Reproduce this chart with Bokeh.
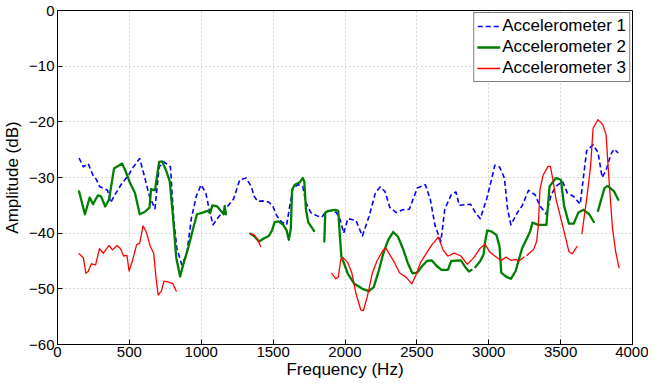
from bokeh.plotting import figure
from bokeh.models import Range1d, FixedTicker, CustomJSTickFormatter
from bokeh.embed import file_html
from bokeh.resources import INLINE

# ---------------- data ----------------
x_ticks = [0, 500, 1000, 1500, 2000, 2500, 3000, 3500, 4000]
y_ticks = [-60, -50, -40, -30, -20, -10, 0]

acc1_freq = [150, 180, 213, 247, 269, 292, 348, 370, 404, 449, 494, 527, 572, 606, 640, 678, 707, 741, 786, 808,
             830, 864, 898, 931, 965, 999, 1032, 1055, 1082, 1111, 1156, 1224, 1268, 1313, 1347, 1369, 1392, 1425,
             1470, 1497, 1526, 1560, 1594, 1616, 1638, 1672, 1706, 1728, 1762, 1807, 1840, 1870, 1908, 1941, 1968,
             1991, 2020, 2076, 2121, 2166, 2211, 2244, 2278, 2312, 2357, 2402, 2447, 2503, 2559, 2593, 2626, 2667,
             2694, 2739, 2772, 2795, 2873, 2907, 2941, 2985, 3019, 3042, 3075, 3109, 3131, 3154, 3199, 3232, 3277,
             3322, 3356, 3401, 3434, 3468, 3513, 3547, 3591, 3636, 3659, 3681, 3726, 3760, 3789, 3816, 3850, 3872,
             3901]
acc1_db = [-26.5, -28.1, -27.5, -29.6, -30.3, -31.6, -32.3, -34.5, -32.9, -31.0, -29.6, -28.1, -26.6, -29.9, -33.4,
           -35.6, -28.1, -27.2, -28.1, -37.4, -42.7, -45.6, -43.9, -37.4, -33.4, -31.3, -32.8, -35.7, -38.5, -37.4,
           -36.0, -33.9, -30.4, -30.1, -31.6, -33.4, -34.3, -34.2, -34.4, -35.1, -36.9, -38.0, -38.5, -35.1, -31.9,
           -31.3, -31.6, -34.5, -36.3, -36.9, -37.1, -36.0, -36.0, -36.3, -37.7, -40.0, -37.4, -37.7, -40.5, -37.1,
           -32.8, -31.7, -32.5, -35.4, -36.3, -35.8, -35.7, -31.9, -31.3, -33.9, -38.6, -41.5, -35.7, -33.1, -32.6,
           -35.0, -34.8, -36.3, -37.4, -33.9, -30.4, -27.8, -28.1, -30.1, -35.7, -38.5, -36.3, -35.1, -32.3, -33.1,
           -35.1, -36.6, -33.1, -31.6, -30.7, -32.8, -33.4, -34.8, -29.9, -25.2, -24.1, -25.5, -30.0, -28.7, -25.8,
           -24.9, -25.6]

acc2_freq = [
    [150, 191, 224, 247, 281, 303, 332, 359, 393, 449, 471, 505, 539, 572, 606, 640, 651, 678, 707, 729, 759, 781,
     803, 826, 853, 875, 909, 943, 970, 1010, 1044, 1062, 1077, 1111, 1156, 1163, 1172],
    [1342, 1367, 1403, 1437, 1470, 1493, 1510, 1538, 1571, 1594, 1609, 1623, 1632, 1650, 1684, 1706, 1717, 1728,
     1744, 1767, 1785],
    [1856, 1863, 1886, 1930, 1953, 1964, 1975, 1987, 2020, 2065, 2121, 2166, 2200, 2234, 2267, 2301, 2335, 2368,
     2402, 2436, 2469, 2503, 2537, 2570, 2604, 2638, 2671, 2716, 2739, 2806, 2840, 2862, 2880],
    [2907, 2941, 2963, 2979, 2990, 3019, 3053, 3075, 3087, 3120, 3154, 3187, 3210, 3232, 3266, 3288, 3304, 3345,
     3401, 3423, 3468, 3502, 3524, 3558, 3591, 3623, 3659, 3699, 3731],
    [3760, 3805, 3827, 3872, 3901],
]
acc2_db = [
    [-32.5, -36.6, -33.6, -34.8, -33.2, -33.4, -35.2, -33.9, -28.4, -27.5, -28.7, -31.0, -32.8, -36.6, -36.2, -35.4,
     -32.1, -32.3, -27.2, -27.1, -29.0, -30.7, -36.9, -44.4, -47.8, -45.6, -42.7, -39.2, -36.6, -36.3, -36.0, -36.4,
     -35.0, -35.2, -36.6, -35.1, -36.6],
    [-40.1, -40.5, -41.5, -40.9, -40.5, -39.5, -38.0, -37.9, -38.5, -39.5, -41.2, -39.2, -32.2, -31.3, -30.9, -30.1,
     -30.7, -35.7, -38.0, -38.9, -39.6],
    [-41.5, -36.3, -36.0, -35.8, -36.0, -40.3, -44.3, -45.0, -47.3, -49.1, -50.0, -50.4, -49.7, -46.8, -43.6, -41.2,
     -39.8, -40.6, -42.7, -45.3, -47.2, -47.1, -45.9, -45.0, -44.9, -45.9, -46.6, -46.6, -45.0, -44.9, -46.2, -46.9,
     -46.6],
    [-46.1, -45.0, -43.9, -40.9, -39.5, -39.7, -40.3, -42.4, -47.1, -47.8, -48.2, -46.8, -44.7, -42.7, -40.9, -39.7,
     -38.1, -38.5, -38.5, -31.6, -30.1, -30.4, -35.1, -38.3, -38.3, -36.3, -35.8, -36.6, -38.0],
    [-36.0, -31.9, -31.5, -32.5, -34.0],
]

acc3_freq = [
    [150, 180, 197, 213, 236, 265, 292, 319, 359, 382, 415, 438, 460, 483, 498, 521, 550, 572, 595, 618, 646, 669,
     685, 700, 723, 741, 774, 803, 826],
    [1340, 1369, 1392, 1414],
    [1908, 1935, 1953, 1971, 1987, 2020, 2047, 2076, 2110, 2128, 2155, 2189, 2222, 2267, 2285, 2312, 2345, 2379,
     2424, 2465, 2492, 2525, 2559, 2604, 2649, 2682, 2716, 2761, 2806, 2851, 2896, 2941, 2974, 3008, 3042, 3087,
     3120, 3154, 3187, 3210, 3246],
    [3266, 3277, 3311, 3333, 3345, 3356, 3378, 3412, 3429, 3446, 3468, 3502, 3535, 3558, 3580, 3614],
    [3648, 3681, 3708, 3726, 3760, 3793, 3816, 3838, 3861, 3883, 3906],
]
acc3_db = [
    [-43.7, -44.4, -47.2, -46.9, -45.5, -45.7, -42.8, -43.6, -42.2, -43.0, -42.2, -42.8, -44.1, -44.0, -46.8, -45.0,
     -42.1, -41.8, -38.7, -39.8, -42.4, -43.6, -47.9, -51.1, -50.4, -48.6, -48.8, -49.1, -50.4],
    [-40.1, -40.3, -41.2, -42.4],
    [-47.2, -48.2, -47.9, -44.7, -44.4, -45.3, -47.1, -50.8, -53.8, -53.9, -51.4, -47.3, -45.0, -43.0, -42.7, -43.9,
     -45.3, -47.1, -47.9, -49.1, -47.6, -45.3, -43.9, -42.1, -40.7, -43.0, -44.1, -43.6, -44.1, -45.6, -44.4, -42.7,
     -42.0, -43.4, -44.1, -44.9, -44.3, -44.9, -44.7, -45.0, -44.3],
    [-44.0, -43.7, -43.0, -41.5, -38.6, -32.2, -29.6, -28.0, -28.0, -30.4, -33.9, -37.4, -40.9, -43.3, -43.7, -42.4],
    [-40.1, -33.9, -28.1, -21.1, -19.6, -20.5, -22.3, -31.0, -39.2, -43.3, -46.2],
]

labels = ["Accelerometer 1", "Accelerometer 2", "Accelerometer 3"]
x_title = "Frequency (Hz)"
y_title = "Amplitude (dB)"

# ---------------- figure ----------------
FONT = "Liberation Sans"
p = figure(width=648, height=381, x_range=Range1d(0, 4000), y_range=Range1d(-60, 0),
           output_backend="svg", toolbar_location=None,
           min_border_left=10, min_border_right=16, min_border_top=10, min_border_bottom=4)
p.background_fill_color = "white"
p.border_fill_color = "white"
p.outline_line_color = "black"
p.outline_line_width = 1

minus_fmt = CustomJSTickFormatter(code="return tick < 0 ? '\\u2212' + Math.abs(tick) : String(tick);")

for ax in p.xaxis + p.yaxis:
    ax.major_label_text_font = FONT
    ax.major_label_text_font_size = "15px"
    ax.major_label_text_color = "black"
    ax.axis_label_text_font = FONT
    ax.axis_label_text_font_size = "17px"
    ax.axis_label_text_font_style = "normal"
    ax.axis_label_text_color = "black"
    ax.axis_line_color = "black"
    ax.major_tick_line_color = "black"
    ax.major_tick_in = 5
    ax.major_tick_out = 0
    ax.minor_tick_line_color = None

p.xaxis.ticker = FixedTicker(ticks=x_ticks)
p.yaxis.ticker = FixedTicker(ticks=y_ticks)
p.yaxis.formatter = minus_fmt
p.xaxis.axis_label = x_title
p.yaxis.axis_label = y_title
p.xaxis.major_label_standoff = 2
p.yaxis.major_label_standoff = 3
p.xaxis.axis_label_standoff = 0
p.yaxis.axis_label_standoff = 4

p.xgrid.ticker = FixedTicker(ticks=x_ticks)
p.ygrid.ticker = FixedTicker(ticks=y_ticks)
p.grid.grid_line_color = "#b4b4b4"
p.grid.grid_line_dash = "1 3"
p.grid.grid_line_width = 1

# ---------------- series ----------------
p.line(acc1_freq, acc1_db, line_color="#0000ff", line_width=1.6, line_dash="5 3",
       line_join="round", legend_label=labels[0])
p.multi_line(acc2_freq, acc2_db, line_color="#008000", line_width=2.3,
             line_join="round", line_cap="round", legend_label=labels[1])
p.multi_line(acc3_freq, acc3_db, line_color="#ff0000", line_width=1.3,
             line_join="round", line_cap="round", legend_label=labels[2])

lg = p.legend[0]
lg.location = "top_right"
lg.label_text_font = FONT
lg.label_text_font_size = "17px"
lg.label_text_color = "black"
lg.border_line_color = "black"
lg.border_line_width = 1
lg.background_fill_color = "white"
lg.background_fill_alpha = 1
lg.glyph_width = 23
lg.glyph_height = 20
lg.label_height = 20
lg.label_standoff = 2
lg.spacing = 1
lg.padding = 3
lg.margin = 2

with open("out.html", "w", encoding="utf-8") as f:
    f.write(file_html(p, INLINE))
